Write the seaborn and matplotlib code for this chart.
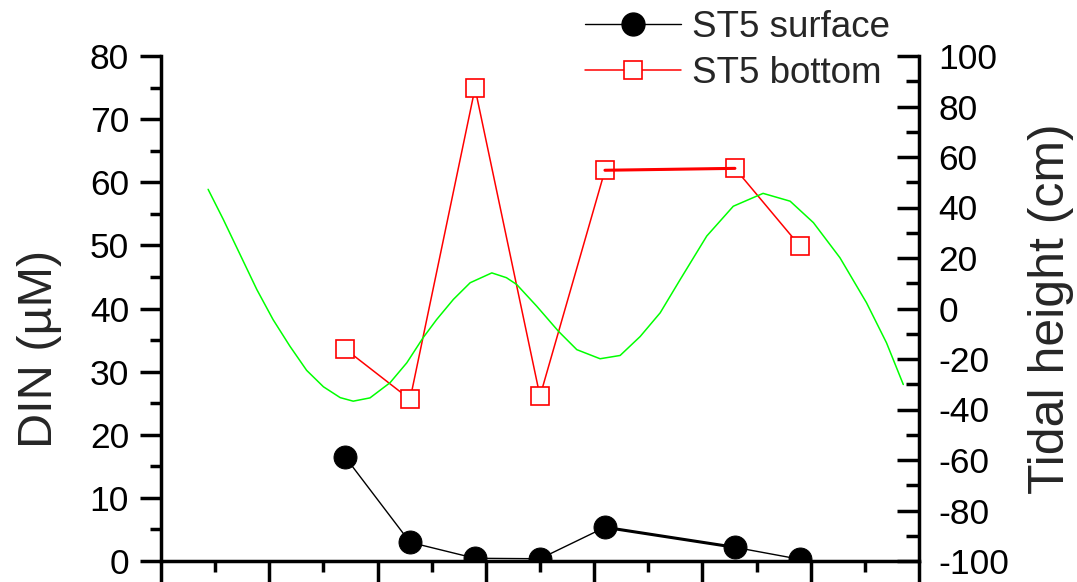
import matplotlib
matplotlib.use("Agg")
import matplotlib.pyplot as plt
import seaborn as sns
import pandas as pd
from matplotlib.ticker import MultipleLocator
from matplotlib.lines import Line2D

# ---- data ----
sample_time = [3.4, 4.6, 5.8, 7.0, 8.2, 10.6, 11.8]
surface_din = [16.5, 2.96, 0.43, 0.36, 5.34, 2.17, 0.27]
bottom_din = [33.6, 25.6, 74.9, 26.1, 61.9, 62.2, 49.9]

tide_time = [0.87, 1.15, 1.46, 1.77, 2.07, 2.38, 2.69, 3.00, 3.31, 3.55,
             3.86, 4.23, 4.54, 4.84, 5.09, 5.40, 5.71, 6.11, 6.38, 6.57,
             6.94, 7.34, 7.68, 8.11, 8.48, 8.85, 9.22, 9.59, 10.08, 10.57,
             11.12, 11.62, 12.05, 12.54, 13.03, 13.40, 13.71]
tide_height = [47.2, 35.3, 21.4, 7.5, -4.4, -14.9, -24.5, -31.0, -35.3, -36.7,
               -35.4, -29.4, -21.5, -11.6, -4.4, 3.6, 10.2, 14.1, 12.2, 9.5,
               0.9, -9.0, -16.3, -19.9, -18.6, -11.1, -1.7, 11.5, 28.7, 40.5,
               45.6, 42.5, 34.0, 20.1, 2.3, -13.6, -30.1]

series_labels = ["ST5 surface", "ST5 bottom"]
left_label = "DIN (µM)"
right_label = "Tidal height (cm)"

sns.set_style("ticks")
plt.rcParams["font.family"] = ["Liberation Sans", "DejaVu Sans"]
plt.rcParams["axes.unicode_minus"] = False

W, H = 1077, 582
fig = plt.figure(figsize=(W / 100, H / 100), dpi=100)
ax = fig.add_axes([161 / W, (H - 561) / H, (919 - 161) / W, (561 - 56) / H])
ax2 = ax.twinx()

df = pd.DataFrame({"t": sample_time, "surf": surface_din, "bot": bottom_din})
tide = pd.DataFrame({"t": tide_time, "h": tide_height})

# tidal curve (right axis)
sns.lineplot(data=tide, x="t", y="h", ax=ax2, color="#00ff00", lw=1.1,
             sort=False, legend=False)

# DIN series (left axis)
sns.lineplot(data=df, x="t", y="bot", ax=ax, color="red", lw=1.1,
             marker="s", markersize=13.5, markerfacecolor="white",
             markeredgecolor="red", markeredgewidth=1.2, sort=False,
             legend=False)
sns.lineplot(data=df.iloc[4:6], x="t", y="bot", ax=ax, color="red", lw=2.2,
             sort=False, legend=False)
sns.lineplot(data=df, x="t", y="surf", ax=ax, color="black", lw=1.0,
             marker="o", markersize=16.5, markerfacecolor="black",
             markeredgecolor="black", sort=False, legend=False)
sns.lineplot(data=df.iloc[4:6], x="t", y="surf", ax=ax, color="black", lw=2.2,
             sort=False, legend=False)

# axes limits / ticks
ax.set_xlim(0, 14)
ax.set_ylim(0, 80)
ax2.set_ylim(-100, 100)
ax.xaxis.set_major_locator(MultipleLocator(2))
ax.xaxis.set_minor_locator(MultipleLocator(1))
ax.yaxis.set_major_locator(MultipleLocator(10))
ax.yaxis.set_minor_locator(MultipleLocator(5))
ax2.yaxis.set_major_locator(MultipleLocator(20))
ax2.yaxis.set_minor_locator(MultipleLocator(10))

TW = 2.5
ax.set_xlabel("")
ax.tick_params(axis="x", which="major", direction="out", length=15, width=TW,
               labelbottom=False, bottom=True, top=False, color="black")
ax.tick_params(axis="x", which="minor", direction="out", length=8, width=TW,
               bottom=True, top=False, color="black")
ax.tick_params(axis="y", which="major", direction="out", length=15, width=TW,
               labelsize=25.5, pad=8, left=True, right=False, colors="black")
ax.tick_params(axis="y", which="minor", direction="out", length=8, width=TW,
               left=True, right=False, color="black")
ax2.tick_params(axis="y", which="major", direction="in", length=16, width=TW,
                labelsize=25.5, pad=14, right=True, left=False, colors="black")
ax2.tick_params(axis="y", which="minor", direction="in", length=9.4, width=TW,
                right=True, left=False, color="black")
ax2.tick_params(axis="x", which="both", top=False, bottom=False,
                labelbottom=False)

for s in ["top", "right"]:
    ax.spines[s].set_visible(False)
for s in ["top", "left", "bottom"]:
    ax2.spines[s].set_visible(False)
ax.spines["left"].set_linewidth(TW)
ax.spines["bottom"].set_linewidth(TW)
ax2.spines["right"].set_linewidth(TW)
for sp in list(ax.spines.values()) + list(ax2.spines.values()):
    sp.set_color("black")

ax.set_ylabel(left_label, fontsize=35)
ax.yaxis.set_label_coords(-0.131, 0.42)
ax2.set_ylabel(right_label, fontsize=36)
ax2.yaxis.set_label_coords(1.1438, 0.5)

handles = [
    Line2D([], [], color="black", lw=1.0, marker="o", markersize=16.5,
           markerfacecolor="black", markeredgecolor="black"),
    Line2D([], [], color="red", lw=1.1, marker="s", markersize=13.5,
           markerfacecolor="white", markeredgecolor="red", markeredgewidth=1.2),
]
fig.legend(handles, series_labels, loc="upper left",
           bbox_to_anchor=(585 / W, 1 - 10 / H), frameon=False, fontsize=26.5,
           handlelength=2.6, handletextpad=0.3, labelspacing=0.3,
           borderpad=0, borderaxespad=0)

fig.savefig("out.png", dpi=100)
